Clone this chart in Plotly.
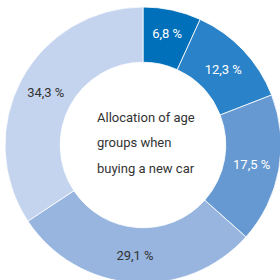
import plotly.graph_objects as go

labels = ["A", "B", "C", "D", "E"]
values = [6.8, 12.3, 17.5, 29.1, 34.3]
texts = ["6,8 %", "12,3 %", "17,5 %", "29,1 %", "34,3 %"]
colors = ["#0070BA", "#2A82C8", "#6699D1", "#97B5DF", "#C5D4EE"]
text_colors = ["#FFFFFF", "#FFFFFF", "#FFFFFF", "#333333", "#333333"]
center_lines = ["Allocation of age", "groups when", "buying a new car"]

W = 290
fig = go.Figure(go.Pie(
    labels=labels, values=values, text=texts, textinfo="text",
    hole=0.60, sort=False, direction="clockwise", rotation=0,
    marker=dict(colors=colors, line=dict(color="white", width=0.8)),
    textposition="inside", insidetextorientation="horizontal",
    textfont=dict(family="Roboto", size=13, color=text_colors),
    domain=dict(x=[5 / W, 281 / W], y=[1 - 283 / W, 1 - 7 / W]),
    showlegend=False, hoverinfo="skip",
))

for i, line in enumerate(center_lines):
    fig.add_annotation(
        text=line, x=95, y=117 + 25.5 * i, xref="x", yref="y",
        showarrow=False, xanchor="left", yanchor="middle",
        font=dict(family="Roboto", size=13, color="#333333"),
    )

fig.update_layout(
    width=W, height=W, margin=dict(l=0, r=0, t=0, b=0),
    paper_bgcolor="white", plot_bgcolor="rgba(0,0,0,0)",
    xaxis=dict(range=[0, W], visible=False, domain=[0, 1]),
    yaxis=dict(range=[W, 0], visible=False, domain=[0, 1]),
)
fig.write_html(
    "out.html",
    config={"displayModeBar": False},
    post_script="document.body.style.margin='0';document.body.style.overflow='hidden';",
)
